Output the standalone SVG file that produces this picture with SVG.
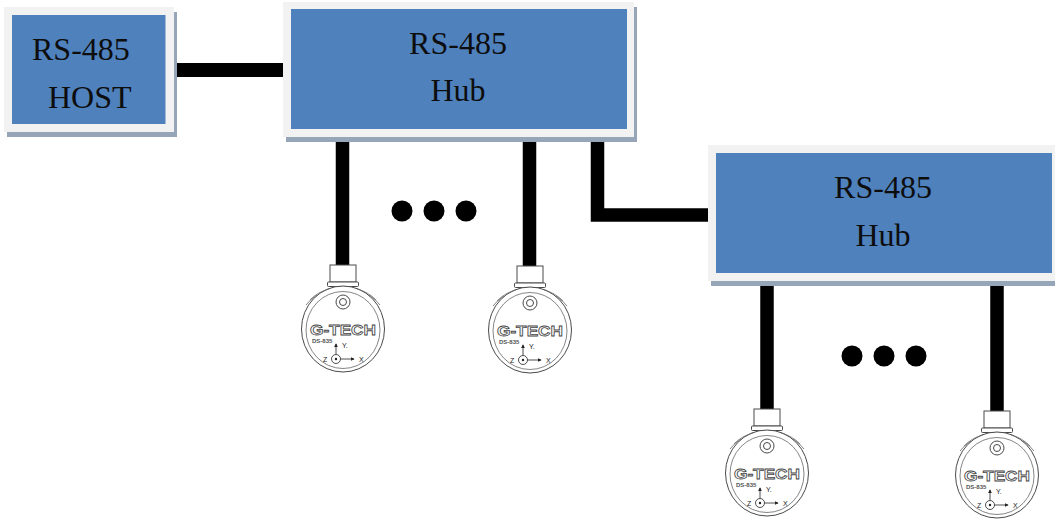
<svg xmlns="http://www.w3.org/2000/svg" width="1055" height="519" viewBox="0 0 1055 519">
<style>
.frame{fill:#f2f2f2}
.shadow{fill:#97a5b9}
.blue{fill:#4f81bd}
.lbl{font-family:"Liberation Serif","Times New Roman",serif;font-size:32px;fill:#0d0d0d}
.wire{fill:none;stroke:#000;stroke-linejoin:miter;stroke-linecap:butt}
.ln{fill:#fff;stroke:#4a4a4a;stroke-width:1}
.thin{fill:none;stroke:#666;stroke-width:0.8}
.brand{font-family:"Liberation Sans",Arial,sans-serif;font-weight:bold;font-size:15.5px;fill:#fff;stroke:#444;stroke-width:0.8}
.tiny{font-family:"Liberation Sans",Arial,sans-serif;font-weight:bold;font-size:6px;fill:#555}
.ax{font-family:"Liberation Sans",Arial,sans-serif;font-size:7px;fill:#222}
</style>
<defs>
<marker id="ah" viewBox="0 0 6 6" refX="5" refY="3" markerWidth="5" markerHeight="5" orient="auto">
<path d="M0,0 L6,3 L0,6 z" fill="#222"/>
</marker>
<g id="sensor">
<rect class="ln" x="-13" y="0" width="26" height="17"/>
<rect class="ln" x="-15.5" y="17" width="31" height="4.5" rx="1"/>
<ellipse class="ln" cx="0" cy="64" rx="41.5" ry="43"/>
<path class="thin" d="M-33,35 A40,40 0 0 1 -14,24 M33,35 A40,40 0 0 0 14,24 M-37,40 A40,40 0 0 1 -26,30 M37,40 A40,40 0 0 0 26,30"/>
<ellipse class="thin" cx="0" cy="65" rx="37" ry="38.5"/>
<circle class="ln" cx="0" cy="37" r="7"/>
<circle class="ln" cx="0" cy="37" r="3.5"/>
<text class="brand" x="0" y="69.5" text-anchor="middle" textLength="66" lengthAdjust="spacingAndGlyphs">G-TECH</text>
<text class="tiny" x="-31" y="77.5">DS-835</text>
<line x1="-7" y1="89.5" x2="-7" y2="79" stroke="#222" stroke-width="0.8" marker-end="url(#ah)"/>
<text class="ax" x="-1" y="82.5">Y.</text>
<circle cx="-7" cy="94" r="4.5" fill="#fff" stroke="#222" stroke-width="0.8"/>
<circle cx="-7" cy="94" r="1.2" fill="#222"/>
<line x1="-2.5" y1="94" x2="11" y2="94" stroke="#222" stroke-width="0.8" marker-end="url(#ah)"/>
<text class="ax" x="-20" y="96.5">Z</text>
<text class="ax" x="16" y="96.5">X</text>
</g>
</defs>

<g id="connectors">
<path class="wire" stroke-width="14" d="M174,70 H284"/>
<path class="wire" stroke-width="13.5" d="M342.5,137 V268"/>
<path class="wire" stroke-width="13.5" d="M529.5,137 V269"/>
<path class="wire" stroke-width="13.5" d="M597.5,137 V215 H709"/>
<path class="wire" stroke-width="13.5" d="M767,281 V411"/>
<path class="wire" stroke-width="13.5" d="M997,281 V413"/>
</g>

<g id="host">
<rect class="shadow" x="7" y="12" width="170" height="125"/>
<rect class="frame" x="4" y="7" width="170" height="125"/>
<rect class="blue" x="12" y="15" width="153.5" height="109"/>
<text class="lbl" x="32" y="60">RS-485</text>
<text class="lbl" x="48" y="108">HOST</text>
</g>

<g id="hub1">
<rect class="shadow" x="286" y="7" width="351" height="135"/>
<rect class="frame" x="283" y="2" width="351" height="135"/>
<rect class="blue" x="291" y="9" width="336" height="120"/>
<text class="lbl" x="458" y="54" text-anchor="middle">RS-485</text>
<text class="lbl" x="458" y="101" text-anchor="middle">Hub</text>
</g>

<g id="hub2">
<rect class="shadow" x="711" y="150" width="360" height="136"/>
<rect class="frame" x="708" y="145" width="360" height="136"/>
<rect class="blue" x="716" y="153" width="336" height="120"/>
<text class="lbl" x="883" y="198" text-anchor="middle">RS-485</text>
<text class="lbl" x="883" y="246" text-anchor="middle">Hub</text>
</g>

<g id="ellipsis1">
<circle cx="402" cy="211" r="10.5" fill="#000"/>
<circle cx="434" cy="211" r="10.5" fill="#000"/>
<circle cx="466" cy="211" r="10.5" fill="#000"/>
</g>
<g id="ellipsis2">
<circle cx="852" cy="356" r="10.5" fill="#000"/>
<circle cx="884" cy="356" r="10.5" fill="#000"/>
<circle cx="916" cy="356" r="10.5" fill="#000"/>
</g>

<g id="sensor1"><use href="#sensor" transform="translate(343,265)"/></g>
<g id="sensor2"><use href="#sensor" transform="translate(530,266)"/></g>
<g id="sensor3"><use href="#sensor" transform="translate(767,409)"/></g>
<g id="sensor4"><use href="#sensor" transform="translate(997,411)"/></g>
</svg>
